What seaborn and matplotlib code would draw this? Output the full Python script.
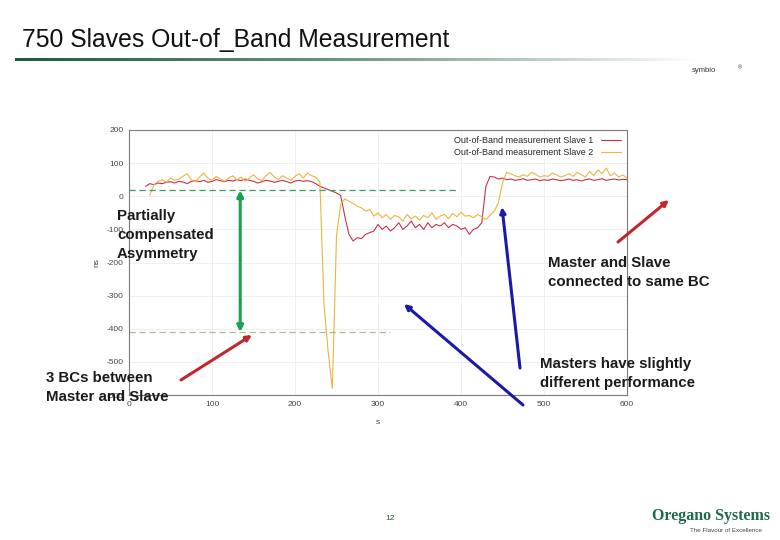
import numpy as np
import pandas as pd
import matplotlib
matplotlib.use('Agg')
import matplotlib.pyplot as plt
import seaborn as sns

# --- dane (czas w s, odchylenie w ns) ---
s_slave1 = list(range(20, 601, 5))
ns_slave1 = [30, 38, 35, 40, 38, 42, 44, 40, 45, 43, 38, 45, 47, 44, 48, 42, 45, 50, 47, 44,
             48, 46, 50, 47, 52, 48, 45, 40, 44, 48, 46, 42, 45, 48, 44, 40, 46, 48, 45, 47,
             44, 38, 30, 25, 20, 15, 10, 2, -60, -115, -135, -125, -128, -115, -110, -105, -85, -100, -90, -105,
             -95, -80, -100, -90, -75, -95, -85, -100, -80, -95, -85, -90, -80, -95, -85, -90, -100, -95, -115, -100,
             -95, -80, 30, 60, 58, 52, 55, 50, 52, 48, 50, 53, 48, 50, 52, 47, 50, 48, 52, 50,
             47, 49, 52, 48, 50, 46, 50, 52, 48, 50, 53, 48, 50, 52, 49, 51, 50]

s_slave2 = list(range(25, 601, 5))
ns_slave2 = [3, 35, 45, 50, 42, 55, 48, 52, 60, 68, 50, 45, 58, 70, 55, 48, 60, 52, 45, 55,
             62, 50, 58, 45, 55, 65, 52, 48, 62, 72, 58, 50, 62, 55, 48, 60, 68, 55, 70, 62,
             58, 42, -330, -470, -580, -120, -25, -8, -15, -22, -30, -35, -45, -40, -60, -50, -65, -55, -70, -58,
             -62, -75, -55, -68, -60, -72, -58, -65, -50, -70, -60, -55, -68, -52, -62, -48, -60, -58, -65, -55,
             -62, -70, -58, -45, -20, 40, 72, 68, 62, 58, 65, 60, 72, 66, 58, 62, 60, 70, 65, 58,
             62, 68, 60, 72, 65, 58, 75, 62, 80, 68, 85, 62, 70, 58, 64, 55]

series_names = ['Out-of-Band measurement Slave 1', 'Out-of-Band measurement Slave 2']
series_colors = ['#c8324a', '#f0b43c']

# poziomy asymetrii (linie przerywane)
asym_top = 18
asym_top_end = 394
asym_bottom = -410
asym_bottom_end = 314
arrow_s = 134

df = pd.concat([
    pd.DataFrame({'s': s_slave1, 'ns': ns_slave1, 'serie': series_names[0]}),
    pd.DataFrame({'s': s_slave2, 'ns': ns_slave2, 'serie': series_names[1]}),
])

sns.set_style('whitegrid')
plt.rcParams['font.family'] = ['Liberation Sans', 'DejaVu Sans']
plt.rcParams['axes.unicode_minus'] = False

W, H = 780, 540
fig = plt.figure(figsize=(W / 100, H / 100), dpi=100)


def fx(px):
    return px / W


def fy(py):
    return 1 - py / H


# wykres
ax = fig.add_axes([fx(129), fy(395), fx(627) - fx(129), fy(130) - fy(395)])
sns.lineplot(data=df, x='s', y='ns', hue='serie', palette=series_colors, linewidth=0.8, ax=ax)
ax.set_xlim(0, 600)
ax.set_ylim(-600, 200)
ax.set_xticks(range(0, 601, 100))
ax.set_yticks(range(-600, 201, 100))
ax.tick_params(labelsize=6, colors='#444444', length=0, pad=4)
ax.grid(color='#ececec', linewidth=0.6)
for sp in ax.spines.values():
    sp.set_color('#7a7a7a')
    sp.set_linewidth(0.8)
ax.set_xlabel('s', fontsize=6, color='#444444', labelpad=8)
ax.set_ylabel('ns', fontsize=6, color='#444444', labelpad=4)
ax.legend(loc='upper right', frameon=False, markerfirst=False, fontsize=6.5,
          handlelength=2.2, labelspacing=0.3, borderaxespad=0.3)

ax.hlines(asym_top, 0, asym_top_end, colors='#3a9a60', linestyles=(0, (5, 3)), linewidth=0.9)
ax.hlines(asym_bottom, 0, asym_bottom_end, colors='#a8c08a', linestyles=(0, (5, 3)), linewidth=0.9)
ax.annotate('', xy=(arrow_s, asym_bottom), xytext=(arrow_s, asym_top),
            arrowprops=dict(arrowstyle='<|-|>', color='#1aa050', lw=2.2, mutation_scale=9,
                            shrinkA=0, shrinkB=0))

# strzałki na slajdzie (piksele od lewego górnego rogu)
arrows = [((181, 380), (252, 335), '#c0282c'),
          ((618, 242), (669, 200), '#c0282c'),
          ((520, 368), (502, 207), '#1a1aa8'),
          ((523, 405), (404, 304), '#1a1aa8')]
for (x0, y0), (x1, y1), c in arrows:
    fig.add_artist(matplotlib.patches.FancyArrowPatch(
        (fx(x0), fy(y0)), (fx(x1), fy(y1)), transform=fig.transFigure,
        arrowstyle='-|>', mutation_scale=8, color=c, lw=2.2, shrinkA=0, shrinkB=0))

# teksty slajdu
fig.text(fx(22), fy(40), '750 Slaves Out-of_Band Measurement', fontsize=17.8, va='center', color='#111111')
txt = dict(fontsize=10.8, fontweight='bold', va='top', color='#1a1a1a', linespacing=1.45)
fig.text(fx(117), fy(209), 'Partially\ncompensated\nAsymmetry', **txt)
fig.text(fx(548), fy(256), 'Master and Slave\nconnected to same BC', **txt)
fig.text(fx(46), fy(371), '3 BCs between\nMaster and Slave', **txt)
fig.text(fx(540), fy(357), 'Masters have slightly\ndifferent performance', **txt)
fig.text(fx(390), fy(518), '12', fontsize=6, color='#2e5e2e', ha='center', va='center')

# linia pod tytułem z gradientem
strip = fig.add_axes([fx(15), fy(61), fx(700) - fx(15), 3 / H])
grad = np.linspace(0, 1, 256).reshape(1, -1)
strip.imshow(grad, aspect='auto', cmap=matplotlib.colors.LinearSegmentedColormap.from_list(
    'g', ['#1f5a3a', '#6f9a80', '#ffffff']))
strip.axis('off')

# logotypy (tekst)
fig.text(fx(692), fy(71), 'symbio', fontsize=5.5, color='#333333', va='center')
fig.text(fx(738), fy(68), '®', fontsize=4, color='#333333', va='center')
fig.text(fx(652), fy(516), 'Oregano Systems', fontsize=11.5, color='#1e6b46', fontweight='bold',
         family=['Liberation Serif', 'DejaVu Serif'], va='center')
fig.text(fx(690), fy(531), 'The Flavour of Excellence', fontsize=4.5, color='#444444', va='center')

fig.savefig('out.png', dpi=100)
